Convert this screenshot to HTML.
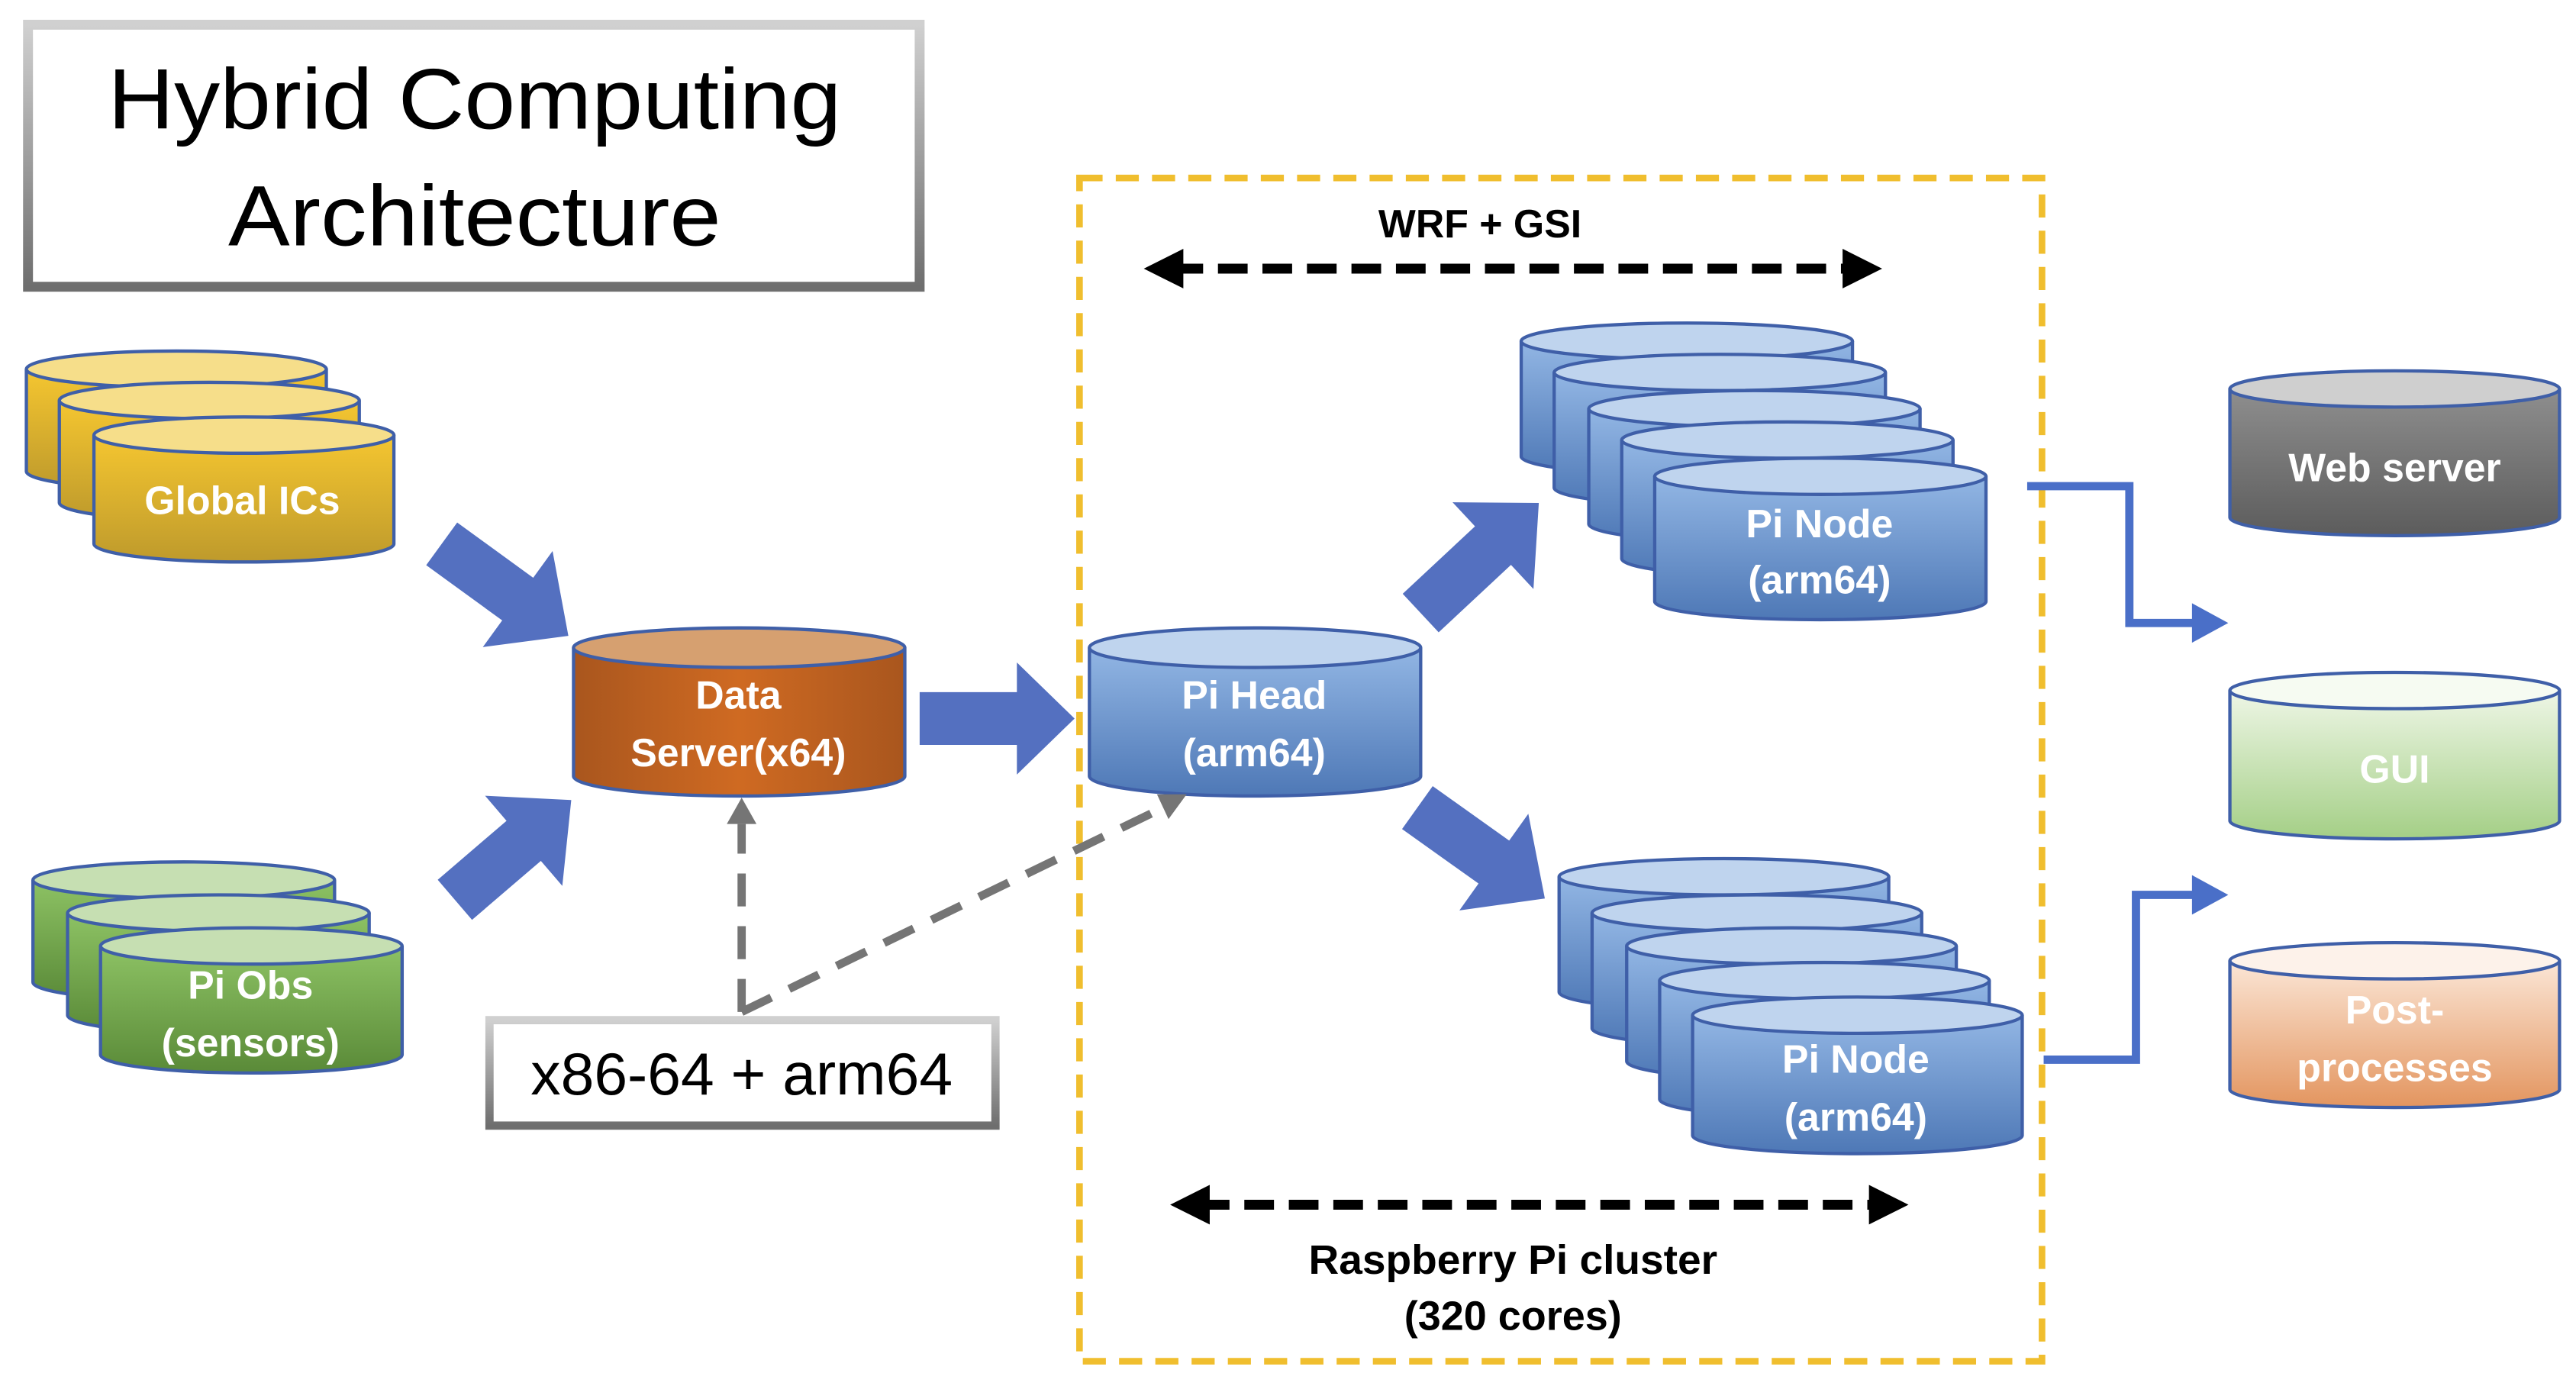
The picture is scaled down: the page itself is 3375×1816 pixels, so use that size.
<!DOCTYPE html>
<html><head><meta charset="utf-8">
<style>
html,body{margin:0;padding:0;background:#fff;}
svg{display:block;}
text{font-family:"Liberation Sans",sans-serif;}
.w{fill:#fff;font-weight:bold;font-size:24px;text-anchor:middle;}
</style></head><body>
<svg width="3375" height="1816" viewBox="0 0 1563 841" preserveAspectRatio="none" xmlns="http://www.w3.org/2000/svg">
<defs>
<linearGradient id="tb" x1="0" y1="0" x2="0" y2="1"><stop offset="0" stop-color="#d0d0d0"/><stop offset="1" stop-color="#6e6e6e"/></linearGradient>
<linearGradient id="yel" x1="0" y1="0" x2="0" y2="1"><stop offset="0" stop-color="#F5C630"/><stop offset="1" stop-color="#BE9A2C"/></linearGradient>
<linearGradient id="grn" x1="0" y1="0" x2="0" y2="1"><stop offset="0" stop-color="#8DC264"/><stop offset="1" stop-color="#5A8A38"/></linearGradient>
<linearGradient id="org" x1="0" y1="0" x2="1" y2="0"><stop offset="0" stop-color="#A9561E"/><stop offset="0.5" stop-color="#CF6A22"/><stop offset="1" stop-color="#A9561E"/></linearGradient>
<linearGradient id="blu" x1="0" y1="0" x2="0" y2="1"><stop offset="0" stop-color="#92B6E4"/><stop offset="1" stop-color="#4E78B6"/></linearGradient>
<linearGradient id="gry" x1="0" y1="0" x2="0" y2="1"><stop offset="0" stop-color="#8e8e8e"/><stop offset="1" stop-color="#5c5c5c"/></linearGradient>
<linearGradient id="gui" x1="0" y1="0" x2="0" y2="1"><stop offset="0" stop-color="#eef6e6"/><stop offset="1" stop-color="#a4cf86"/></linearGradient>
<linearGradient id="pst" x1="0" y1="0" x2="0" y2="1"><stop offset="0" stop-color="#fbe6d6"/><stop offset="1" stop-color="#e3955f"/></linearGradient>
</defs>

<!-- title -->
<rect x="17" y="15" width="541" height="159" fill="#fff" stroke="url(#tb)" stroke-width="6"/>
<text x="288" y="78" font-size="52" text-anchor="middle" textLength="445" lengthAdjust="spacingAndGlyphs">Hybrid Computing</text>
<text x="288" y="149" font-size="52" text-anchor="middle" textLength="299" lengthAdjust="spacingAndGlyphs">Architecture</text>

<!-- Global ICs -->
<g stroke="#3F5FA8" stroke-width="2">
<path d="M16 224 v62 a91 11 0 0 0 182 0 v-62" fill="url(#yel)"/><ellipse cx="107" cy="224" rx="91" ry="11" fill="#F6DE8A"/>
<path d="M36 243 v62 a91 11 0 0 0 182 0 v-62" fill="url(#yel)"/><ellipse cx="127" cy="243" rx="91" ry="11" fill="#F6DE8A"/>
<path d="M57 264 v66 a91 11 0 0 0 182 0 v-66" fill="url(#yel)"/><ellipse cx="148" cy="264" rx="91" ry="11" fill="#F6DE8A"/>
</g>
<text class="w" x="147" y="312" font-size="25">Global ICs</text>

<!-- Pi Obs -->
<g stroke="#3F5FA8" stroke-width="2">
<path d="M20 534 v62 a91 11 0 0 0 183 0 v-62" fill="url(#grn)"/><ellipse cx="111.5" cy="534" rx="91.5" ry="11" fill="#C6DFB2"/>
<path d="M41 554 v62 a91 11 0 0 0 183 0 v-62" fill="url(#grn)"/><ellipse cx="132.5" cy="554" rx="91.5" ry="11" fill="#C6DFB2"/>
<path d="M61 574 v66 a91 11 0 0 0 183 0 v-66" fill="url(#grn)"/><ellipse cx="152.5" cy="574" rx="91.5" ry="11" fill="#C6DFB2"/>
</g>
<text class="w" x="152" y="606">Pi Obs</text>
<text class="w" x="152" y="641">(sensors)</text>

<!-- Data server -->
<g stroke="#3F5FA8" stroke-width="2">
<path d="M348 393 v78 a100.5 12 0 0 0 201 0 v-78" fill="url(#org)"/><ellipse cx="448.5" cy="393" rx="100.5" ry="12" fill="#D6A070"/>
</g>
<text class="w" x="448" y="430">Data</text>
<text class="w" x="448" y="465">Server(x64)</text>

<!-- Pi head -->
<g stroke="#3F5FA8" stroke-width="2">
<path d="M661 393 v78 a100.5 12 0 0 0 201 0 v-78" fill="url(#blu)"/><ellipse cx="761.5" cy="393" rx="100.5" ry="12" fill="#BFD4EE"/>
</g>
<text class="w" x="761" y="430">Pi Head</text>
<text class="w" x="761" y="465">(arm64)</text>

<!-- upper nodes -->
<g stroke="#3F5FA8" stroke-width="2">
<path d="M923 207 v70 a100.5 11 0 0 0 201 0 v-70" fill="url(#blu)"/><ellipse cx="1023.5" cy="207" rx="100.5" ry="11" fill="#BFD4EE"/>
<path d="M943 226 v70 a100.5 11 0 0 0 201 0 v-70" fill="url(#blu)"/><ellipse cx="1043.5" cy="226" rx="100.5" ry="11" fill="#BFD4EE"/>
<path d="M964 248 v70 a100.5 11 0 0 0 201 0 v-70" fill="url(#blu)"/><ellipse cx="1064.5" cy="248" rx="100.5" ry="11" fill="#BFD4EE"/>
<path d="M984 267 v72 a100.5 11 0 0 0 201 0 v-72" fill="url(#blu)"/><ellipse cx="1084.5" cy="267" rx="100.5" ry="11" fill="#BFD4EE"/>
<path d="M1004 289 v76 a100.5 11 0 0 0 201 0 v-76" fill="url(#blu)"/><ellipse cx="1104.5" cy="289" rx="100.5" ry="11" fill="#BFD4EE"/>
</g>
<text class="w" x="1104" y="326">Pi Node</text>
<text class="w" x="1104" y="360">(arm64)</text>

<!-- lower nodes -->
<g stroke="#3F5FA8" stroke-width="2">
<path d="M946 532 v70 a100 11 0 0 0 200 0 v-70" fill="url(#blu)"/><ellipse cx="1046" cy="532" rx="100" ry="11" fill="#BFD4EE"/>
<path d="M966 554 v70 a100 11 0 0 0 200 0 v-70" fill="url(#blu)"/><ellipse cx="1066" cy="554" rx="100" ry="11" fill="#BFD4EE"/>
<path d="M987 574 v70 a100 11 0 0 0 200 0 v-70" fill="url(#blu)"/><ellipse cx="1087" cy="574" rx="100" ry="11" fill="#BFD4EE"/>
<path d="M1007 595 v72 a100 11 0 0 0 200 0 v-72" fill="url(#blu)"/><ellipse cx="1107" cy="595" rx="100" ry="11" fill="#BFD4EE"/>
<path d="M1027 616 v73 a100 11 0 0 0 200 0 v-73" fill="url(#blu)"/><ellipse cx="1127" cy="616" rx="100" ry="11" fill="#BFD4EE"/>
</g>
<text class="w" x="1126" y="651">Pi Node</text>
<text class="w" x="1126" y="686">(arm64)</text>

<!-- right cylinders -->
<g stroke="#3F5FA8" stroke-width="2">
<path d="M1353 236 v78 a100 11 0 0 0 200 0 v-78" fill="url(#gry)"/><ellipse cx="1453" cy="236" rx="100" ry="11" fill="#cfcfcf"/>
<path d="M1353 419 v79 a100 11 0 0 0 200 0 v-79" fill="url(#gui)"/><ellipse cx="1453" cy="419" rx="100" ry="11" fill="#f6fbf2"/>
<path d="M1353 583 v78 a100 11 0 0 0 200 0 v-78" fill="url(#pst)"/><ellipse cx="1453" cy="583" rx="100" ry="11" fill="#fdf2ea"/>
</g>
<text class="w" x="1453" y="292" font-size="25">Web server</text>
<text class="w" x="1453" y="475">GUI</text>
<text class="w" x="1453" y="621">Post-</text>
<text class="w" x="1453" y="656">processes</text>

<!-- yellow dashed box -->
<rect x="655" y="108" width="584" height="718" fill="none" stroke="#F0BE2E" stroke-width="4" stroke-dasharray="14 8"/>

<!-- black dashed arrows -->
<line x1="712" y1="163" x2="1124" y2="163" stroke="#000" stroke-width="6" stroke-dasharray="18 9"/>
<polygon points="694,163 718,151 718,175" fill="#000"/>
<polygon points="1142,163 1118,151 1118,175" fill="#000"/>
<text x="898" y="144" font-size="24" font-weight="bold" text-anchor="middle">WRF + GSI</text>
<line x1="728" y1="731" x2="1140" y2="731" stroke="#000" stroke-width="6" stroke-dasharray="18 9"/>
<polygon points="710,731 734,719 734,743" fill="#000"/>
<polygon points="1158,731 1134,719 1134,743" fill="#000"/>
<text x="918" y="773" font-size="25" font-weight="bold" text-anchor="middle" textLength="248" lengthAdjust="spacingAndGlyphs">Raspberry Pi cluster</text>
<text x="918" y="807" font-size="25" font-weight="bold" text-anchor="middle">(320 cores)</text>

<!-- block arrows -->
<g fill="#5470C0">
<polygon transform="translate(268,330) rotate(36)" points="0,-16 57,-16 57,-36 95,0 57,36 57,16 0,16"/>
<polygon transform="translate(276,546) rotate(-40.6)" points="0,-16 55,-16 55,-36 93,0 55,36 55,16 0,16"/>
<polygon transform="translate(558,436)" points="0,-16 59,-16 59,-34 94,0 59,34 59,16 0,16"/>
<polygon transform="translate(862,372) rotate(-43)" points="0,-16 60,-16 60,-36 98,0 60,36 60,16 0,16"/>
<polygon transform="translate(860,490) rotate(35.5)" points="0,-16 57,-16 57,-36 95,0 57,36 57,16 0,16"/>
</g>

<!-- blue elbow connectors -->
<polyline points="1230,295 1292,295 1292,378 1334,378" fill="none" stroke="#4A6FC8" stroke-width="5"/>
<polygon points="1352,378 1330,366 1330,390" fill="#4A6FC8"/>
<polyline points="1240,643 1296,643 1296,543 1334,543" fill="none" stroke="#4A6FC8" stroke-width="5"/>
<polygon points="1352,543 1330,531 1330,555" fill="#4A6FC8"/>

<!-- gray dashed connectors -->
<line x1="450" y1="614" x2="450" y2="500" stroke="#757575" stroke-width="5" stroke-dasharray="20 12"/>
<polygon points="450,484 441,500 459,500" fill="#757575"/>
<line x1="450" y1="614" x2="706" y2="490" stroke="#757575" stroke-width="5" stroke-dasharray="20 12"/>
<polygon points="720,482 702,482 709,497" fill="#757575"/>

<!-- x86 box -->
<rect x="297" y="619" width="307" height="64" fill="#fff" stroke="url(#tb)" stroke-width="5"/>
<text x="450" y="664" font-size="36" text-anchor="middle" textLength="256" lengthAdjust="spacingAndGlyphs">x86-64 + arm64</text>
</svg>
</body></html>
